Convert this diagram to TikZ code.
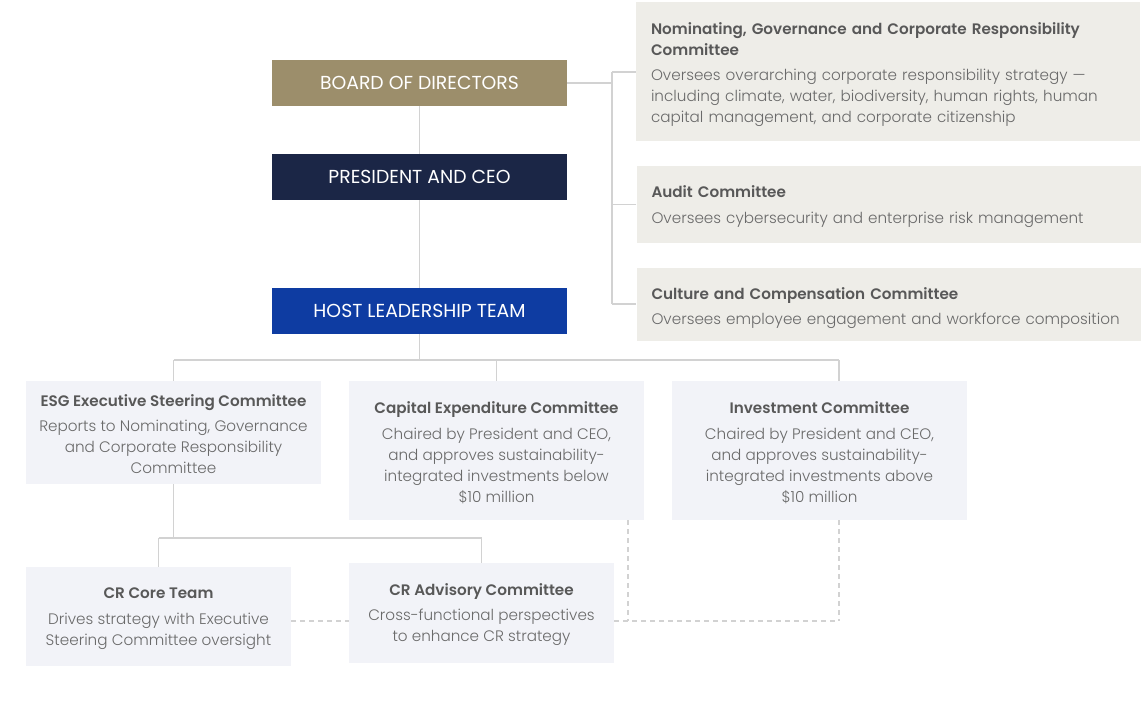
\documentclass[tikz,border=0pt]{standalone}
\usepackage{fontspec}
\setmainfont{Poppins}[UprightFont={* Light}, BoldFont={* Medium}]
\newfontfamily\mainboxfont{Poppins}
\newfontfamily\ttlfont{Poppins SemiBold}
\definecolor{tanc}{HTML}{9C8E6B}
\definecolor{navyc}{HTML}{1B2646}
\definecolor{bluec}{HTML}{0E3CA2}
\definecolor{rboxc}{HTML}{EEEDE8}
\definecolor{lboxc}{HTML}{F2F3F8}
\definecolor{linec}{HTML}{D2D2D2}
\definecolor{ttlc}{HTML}{585858}
\definecolor{bdyc}{HTML}{6A6A6A}
\newcommand\ttl[1]{{\ttlfont\color{ttlc}#1}}
\begin{document}
\begin{tikzpicture}[x=1pt,y=-1pt,
  mainbox/.style={minimum width=295pt, minimum height=46pt, inner sep=0pt, text=white, font=\mainboxfont\fontsize{18.8}{20}\selectfont},
  rbg/.style={fill=rboxc, minimum width=504pt, inner sep=0pt},
  lbg/.style={fill=lboxc, inner sep=0pt},
  rtext/.style={text width=474pt, inner sep=0pt, align=left, text=bdyc, font=\fontsize{15.2}{21}\selectfont},
  ltext/.style={inner sep=0pt, align=center, text=bdyc, font=\fontsize{15.2}{21}\selectfont},
  conn/.style={draw=linec, line width=1.3pt},
  dconn/.style={draw=linec, line width=1.2pt, dash pattern=on 5pt off 4pt}]
\useasboundingbox (0,0) rectangle (1142,703);
\fill[white] (0,0) rectangle (1142,703);
% main column
\node[mainbox, fill=tanc] (board) at (419.5,83) {BOARD OF DIRECTORS};
\node[mainbox, fill=navyc] (ceo) at (419.5,177) {PRESIDENT AND CEO};
\node[mainbox, fill=bluec] (hlt) at (419.5,311) {HOST LEADERSHIP TEAM};
% board committees
\node[rbg, minimum height=139pt] (nom) at (888,71.5) {};
\node[rtext] (nomt) at ([yshift=-3pt]nom.center) {\ttl{Nominating, Governance and Corporate Responsibility}\\\ttl{Committee}\\[4pt]Oversees overarching corporate responsibility strategy ---\\including climate, water, biodiversity, human rights, human\\capital management, and corporate citizenship};
\node[rbg, minimum height=77pt] (aud) at (888.5,204.5) {};
\node[rtext] (audt) at ([yshift=-2pt]aud.center) {\ttl{Audit Committee}\\[5pt]Oversees cybersecurity and enterprise risk management};
\node[rbg, minimum height=73pt] (cul) at (888.5,304.5) {};
\node[rtext] (cult) at ([yshift=-3.5pt]cul.center) {\ttl{Culture and Compensation Committee}\\[4pt]Oversees employee engagement and workforce composition};
% management committees
\node[lbg, minimum width=295pt, minimum height=103pt] (esg) at (173.5,432.5) {};
\node[ltext] (esgt) at ([yshift=-2pt]esg.center) {\ttl{ESG Executive Steering Committee}\\[4pt]Reports to Nominating, Governance\\and Corporate Responsibility\\Committee};
\node[lbg, minimum width=295pt, minimum height=139pt] (capex) at (496.5,450.5) {};
\node[ltext] (capext) at ([yshift=-2.5pt]capex.center) {\ttl{Capital Expenditure Committee}\\[5pt]Chaired by President and CEO,\\and approves sustainability-\\integrated investments below\\\$10 million};
\node[lbg, minimum width=295pt, minimum height=139pt] (inv) at (819.5,450.5) {};
\node[ltext] (invt) at ([yshift=-2pt]inv.center) {\ttl{Investment Committee}\\[5pt]Chaired by President and CEO,\\and approves sustainability-\\integrated investments above\\\$10 million};
\node[lbg, minimum width=265pt, minimum height=99pt] (core) at (158.5,616.5) {};
\node[ltext] (coret) at ([yshift=-2pt]core.center) {\ttl{CR Core Team}\\[5pt]Drives strategy with Executive\\Steering Committee oversight};
\node[lbg, minimum width=265pt, minimum height=100pt] (adv) at (481.5,613) {};
\node[ltext] (advt) at ([yshift=-2pt]adv.center) {\ttl{CR Advisory Committee}\\[4pt]Cross-functional perspectives\\to enhance CR strategy};
% connectors: main column
\draw[conn] (board) -- (ceo);
\draw[conn] (ceo) -- (hlt);
% board committees
\coordinate (vtop) at (612,72);
\coordinate (vbot) at (612,304);
\draw[conn] (board.east) -- (board.east -| vtop);
\draw[conn] (vtop) -- (vbot);
\draw[conn] (vtop) -- (vtop -| nom.west);
\draw[conn] (aud.west) -- (aud.west -| vtop);
\draw[conn] (vbot) -- (vbot -| cul.west);
% HLT tree
\coordinate (hj) at (418,360);
\coordinate (invx) at (839,360);
\draw[conn] (hlt.south) -- (hlt.south |- hj);
\draw[conn] (esg.north |- hj) -- (invx);
\draw[conn] (esg.north |- hj) -- (esg.north);
\draw[conn] (capex.north |- hj) -- (capex.north);
\draw[conn] (invx) -- (invx |- inv.north);
% ESG tree
\coordinate (ej) at (173.5,538);
\draw[conn] (esg.south) -- (ej);
\draw[conn] (core.north |- ej) -- (adv.north |- ej);
\draw[conn] (core.north |- ej) -- (core.north);
\draw[conn] (adv.north |- ej) -- (adv.north);
% dashed links
\coordinate (dy) at (0,621);
\coordinate (dc) at (628,621);
\coordinate (dj) at (839,621);
\draw[dconn] (core.east |- dy) -- (adv.west |- dy);
\draw[dconn] (adv.east |- dy) -- (dj);
\draw[dconn] (dc |- capex.south) -- (dc);
\draw[dconn] (dj |- inv.south) -- (dj);
\end{tikzpicture}
\end{document}
